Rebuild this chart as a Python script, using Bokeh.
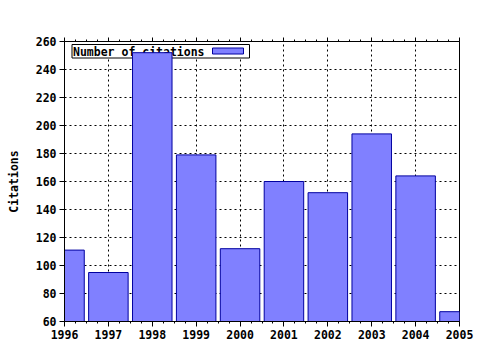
from bokeh.plotting import figure
from bokeh.models import (Range1d, FixedTicker, LinearAxis, BoxAnnotation, Label)
from bokeh.embed import file_html
from bokeh.resources import INLINE

years = [1996, 1997, 1998, 1999, 2000, 2001, 2002, 2003, 2004, 2005]
citations = [111, 95, 252, 179, 112, 160, 152, 194, 164, 67]
y_ticks = [60, 80, 100, 120, 140, 160, 180, 200, 220, 240, 260]
series_name = "Number of citations"
y_label = "Citations"

FONT = "DejaVu Sans Mono"
FS = "11.5px"

x0, x1, y0, y1 = 1996, 2005, 60, 260
FL, FT, FW, FH = 64, 41, 395, 280

p = figure(width=480, height=350, output_backend="svg", toolbar_location=None,
           x_range=Range1d(x0, x1), y_range=Range1d(y0, y1),
           min_border_left=FL, min_border_right=480 - FL - FW,
           min_border_top=FT, min_border_bottom=350 - FT - FH,
           background_fill_color="white", border_fill_color="white")
p.outline_line_color = "black"
p.outline_line_width = 1

minor_x = [y + f for y in years[:-1] for f in (0.25, 0.5, 0.75)]
p.xaxis.ticker = FixedTicker(ticks=years, minor_ticks=minor_x)
p.yaxis.ticker = FixedTicker(ticks=y_ticks)

for ax in p.xaxis + p.yaxis:
    ax.major_label_text_font = FONT
    ax.major_label_text_font_style = "bold"
    ax.major_label_text_font_size = FS
    ax.major_label_text_color = "black"
    ax.axis_line_color = "black"
    ax.major_tick_line_color = "black"
    ax.minor_tick_line_color = "black"
    ax.major_tick_in = 0
    ax.major_tick_out = 5
    ax.minor_tick_in = 0
    ax.minor_tick_out = 2
    ax.major_label_standoff = 3

p.yaxis.minor_tick_line_color = None
p.yaxis.axis_label = y_label
p.yaxis.axis_label_text_font = FONT
p.yaxis.axis_label_text_font_style = "bold"
p.yaxis.axis_label_text_font_size = FS
p.yaxis.axis_label_text_color = "black"
p.yaxis.axis_label_standoff = 12

top = LinearAxis(ticker=FixedTicker(ticks=years, minor_ticks=minor_x),
                 major_label_text_font_size="0px", major_label_text_color=None,
                 major_tick_in=0, major_tick_out=4, minor_tick_in=0, minor_tick_out=2,
                 axis_line_color="black", major_label_standoff=0)
p.add_layout(top, "above")

p.xgrid.ticker = FixedTicker(ticks=years)
p.ygrid.ticker = FixedTicker(ticks=y_ticks)
p.grid.grid_line_color = "black"
p.grid.grid_line_dash = "2 3"
p.grid.grid_line_width = 1

def dx(px):
    return x0 + (px - FL) / FW * (x1 - x0)

def dy(py):
    return y1 - (py - FT) / FH * (y1 - y0)

# legend (drawn beneath the bars, as in the reference)
box = BoxAnnotation(left=dx(71.5), right=dx(249), top=dy(44), bottom=dy(57.5),
                    fill_color="white", fill_alpha=1, line_color="black", line_width=1,
                    line_alpha=1, level="underlay")
sw = BoxAnnotation(left=dx(212), right=dx(243), top=dy(47.5), bottom=dy(53.5),
                   fill_color="#8080ff", fill_alpha=1, line_color="#0000a0", line_width=1,
                   line_alpha=1, level="underlay")
lab = Label(x=dx(72.5), y=dy(51), text=series_name, text_font=FONT,
            text_font_style="bold", text_font_size=FS, text_baseline="middle",
            text_color="black", level="underlay")
p.add_layout(box)
p.add_layout(sw)
p.add_layout(lab)

p.vbar(x=years, top=citations, bottom=y0, width=0.9,
       fill_color="#8080ff", line_color="#0000a0", line_width=1)

open("out.html", "w").write(file_html(p, INLINE))
